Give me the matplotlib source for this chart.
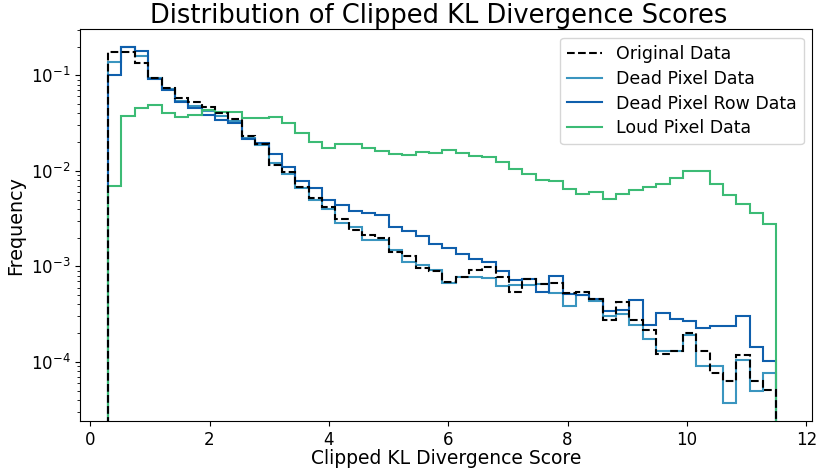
import numpy as np
import matplotlib
matplotlib.use("Agg")
import matplotlib.pyplot as plt

# histogram bins (50 bins over the clipped score range)
bin_lo, bin_hi, n_bins = 0.3, 11.5, 50

original = [0.177, 0.177, 0.133, 0.0926, 0.0736, 0.0573, 0.0521, 0.0462, 0.0404, 0.0352,
            0.0229, 0.0189, 0.01155, 0.00965, 0.00685, 0.0052, 0.00414, 0.0031, 0.0024, 0.00213,
            0.00197, 0.00143, 0.00129, 0.000958, 0.000904, 0.000695, 0.000778, 0.00092, 0.000996, 0.000772,
            0.000546, 0.000741, 0.000658, 0.000678, 0.000526, 0.000536, 0.000453, 0.000274, 0.000422, 0.000274,
            0.000215, 0.00012, 0.00013, 0.000201, 0.00013, 7.67e-5, 6.31e-5, 0.000118, 6.31e-5, 5.05e-5]

dead_pixel = [0.139, 0.198, 0.16, 0.0942, 0.0718, 0.0543, 0.0481, 0.0427, 0.0379, 0.0336,
              0.0223, 0.01845, 0.01197, 0.0092, 0.00668, 0.00501, 0.00395, 0.00286, 0.00256, 0.00189,
              0.00189, 0.00149, 0.00111, 0.00104, 0.00092, 0.000668, 0.000778, 0.000772, 0.000753, 0.000626,
              0.000641, 0.000641, 0.000658, 0.000524, 0.000385, 0.000504, 0.000431, 0.000305, 0.000315, 0.000241,
              0.000174, 0.00013, 0.00013, 0.000193, 9.08e-5, 9.08e-5, 3.68e-5, 0.000104, 4.99e-5, 7.59e-5]

dead_row = [0.101, 0.198, 0.18, 0.0913, 0.0706, 0.053, 0.0451, 0.0388, 0.0344, 0.0315,
            0.0218, 0.0198, 0.01503, 0.01096, 0.00778, 0.00668, 0.00501, 0.00437, 0.00381, 0.00363,
            0.00344, 0.0026, 0.00236, 0.00208, 0.00171, 0.00155, 0.00135, 0.0012, 0.00112, 0.000904,
            0.000723, 0.000741, 0.000536, 0.000796, 0.000514, 0.000504, 0.000458, 0.000344, 0.00035, 0.000444,
            0.000242, 0.000325, 0.000284, 0.000271, 0.000227, 0.00024, 0.00024, 0.0003, 0.000145, 0.000102]

loud_pixel = [0.0069, 0.0374, 0.0451, 0.0493, 0.0402, 0.037, 0.0385, 0.0432, 0.0414, 0.0414,
              0.0356, 0.0361, 0.0367, 0.0315, 0.0248, 0.0201, 0.0174, 0.0189, 0.0189, 0.0175,
              0.0161, 0.0151, 0.0146, 0.0156, 0.0155, 0.0166, 0.0153, 0.01425, 0.0139, 0.01227,
              0.01055, 0.00935, 0.0081, 0.00778, 0.00641, 0.00579, 0.00601, 0.00513, 0.00569, 0.00637,
              0.00673, 0.00723, 0.00851, 0.00989, 0.00989, 0.00736, 0.00556, 0.00446, 0.00365, 0.00279]

edges = np.linspace(bin_lo, bin_hi, n_bins + 1)

fig = plt.figure(figsize=(8.18, 4.68), dpi=100)
ax = fig.add_axes([0.098, 0.100, 0.895, 0.838])
ax.set_yscale('log')

ax.stairs(dead_pixel, edges, baseline=0, color='#3a95bf', lw=1.5, label='Dead Pixel Data', zorder=2)
ax.stairs(dead_row, edges, baseline=0, color='#0f5fac', lw=1.5, label='Dead Pixel Row Data', zorder=3)
ax.stairs(loud_pixel, edges, baseline=0, color='#3cbb75', lw=1.5, label='Loud Pixel Data', zorder=4)
ax.stairs(original, edges, baseline=0, color='black', lw=1.5, ls='--', label='Original Data', zorder=5)

ax.set_xlim(-0.168, 12.1)
ax.set_ylim(2.4e-5, 0.305)
ax.set_xticks(range(0, 13, 2))
ax.tick_params(labelsize=12)

ax.set_title('Distribution of Clipped KL Divergence Scores', fontsize=18.5, pad=4, x=0.49)
ax.set_xlabel('Clipped KL Divergence Score', fontsize=13.5, labelpad=0)
ax.set_ylabel('Frequency', fontsize=13.8)

handles, labels = ax.get_legend_handles_labels()
order = ['Original Data', 'Dead Pixel Data', 'Dead Pixel Row Data', 'Loud Pixel Data']
hmap = dict(zip(labels, handles))
ax.legend([hmap[k] for k in order], order, loc='upper right', fontsize=12.5, labelspacing=0.4)

fig.savefig('out.png', dpi=100)
